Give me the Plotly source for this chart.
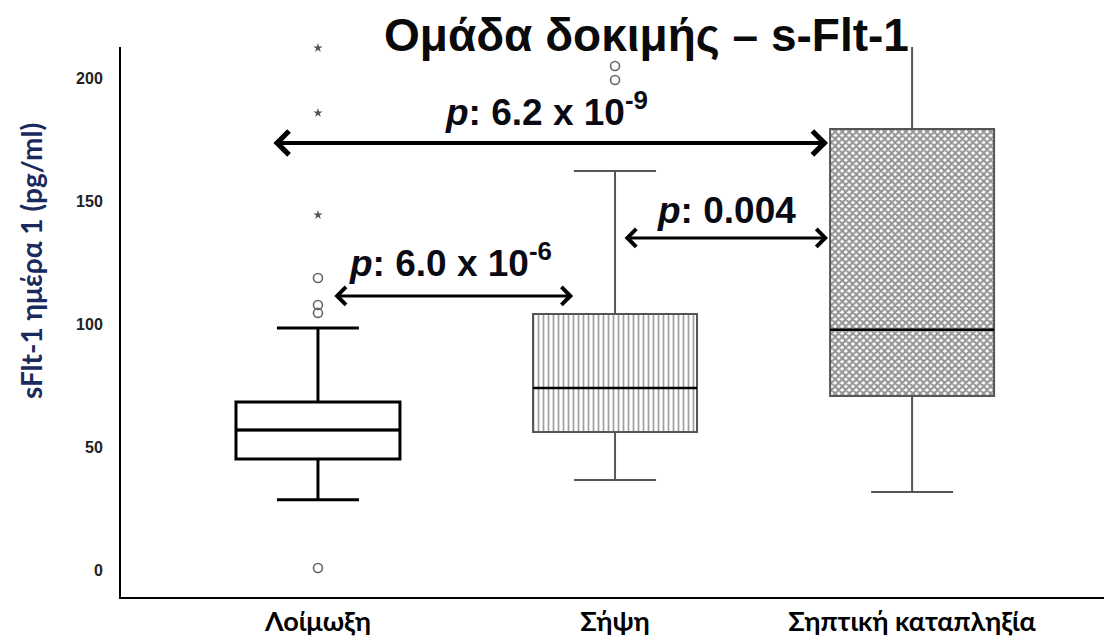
import plotly.graph_objects as go

# Groups and box-plot statistics (sFlt-1, pg/ml)
groups = ["Λοίμωξη", "Σήψη", "Σηπτική καταπληξία"]
q1 = [45.1, 56.1, 70.7]
median = [56.9, 74.0, 97.6]
q3 = [68.3, 104.1, 179.3]
lower_whisker = [28.5, 36.6, 31.7]
upper_whisker = [98.4, 162.2, 213.0]

# Outliers: mild (circles) and extreme (stars)
mild_group = ["Λοίμωξη", "Λοίμωξη", "Λοίμωξη", "Λοίμωξη", "Σήψη", "Σήψη"]
mild_values = [0.8, 104.5, 107.7, 118.7, 199.2, 204.9]
extreme_group = ["Λοίμωξη", "Λοίμωξη", "Λοίμωξη"]
extreme_values = [144.3, 185.8, 212.2]

# Pairwise comparisons: arrow start, arrow end (category units), height, label
comparisons = [
    (-0.155, 1.717, 173.6, "<i>p</i>: 6.2 x 10<sup>-9</sup>", 0.77, 4, 33),
    (0.05, 0.859, 111.4, "<i>p</i>: 6.0 x 10<sup>-6</sup>", 0.445, 3, 35),
    (1.027, 1.717, 135.0, "<i>p</i>: 0.004", 1.375, 3, 27),
]

fig = go.Figure()

# Patterned box bodies
fig.add_trace(go.Bar(
    x=groups,
    y=[b - a for a, b in zip(q1, q3)],
    base=q1,
    width=0.552,
    marker=dict(
        color="white",
        line=dict(width=0),
        pattern=dict(shape=["", "|", "x"], fgcolor=["#000", "#444", "#2a2a2a"],
                     bgcolor="white", size=[6, 5, 5], solidity=[0.2, 0.35, 0.65]),
    ),
    hoverinfo="skip",
    showlegend=False,
))

box_line = [("black", 3), ("#555", 2), ("#555", 2)]
for i, g in enumerate(groups):
    fig.add_trace(go.Box(
        x=[g],
        q1=[q1[i]], median=[median[i]], q3=[q3[i]],
        lowerfence=[lower_whisker[i]], upperfence=[upper_whisker[i]],
        width=0.552,
        whiskerwidth=0.5,
        fillcolor="rgba(0,0,0,0)",
        line=dict(color=box_line[i][0], width=box_line[i][1]),
        boxpoints=False,
        showlegend=False,
    ))
    # darker median line
    fig.add_trace(go.Scatter(
        x=[i - 0.276, i + 0.276], y=[median[i], median[i]],
        xaxis="x2", mode="lines", line=dict(color="black", width=2.5),
        showlegend=False, hoverinfo="skip",
    ))

fig.add_trace(go.Scatter(
    x=mild_group, y=mild_values, mode="markers", cliponaxis=False,
    marker=dict(symbol="circle-open", size=9, color="#666", line=dict(width=1.6)),
    showlegend=False,
))
fig.add_trace(go.Scatter(
    x=extreme_group, y=extreme_values, mode="markers", cliponaxis=False,
    marker=dict(symbol="star", size=7, color="#555"),
    showlegend=False,
))

annotations = []
for x0, x1, yv, label, lx, lw, shift in comparisons:
    annotations.append(dict(
        x=x1, y=yv, ax=x0, ay=yv, xref="x2", yref="y", axref="x2", ayref="y",
        text="", showarrow=True, arrowhead=4, startarrowhead=4,
        arrowside="end+start", arrowsize=1.15, startarrowsize=1.15,
        arrowwidth=lw, arrowcolor="black",
    ))
    annotations.append(dict(
        x=lx, y=yv, xref="x2", yref="y", yshift=shift,
        text=f"<b>{label}</b>", showarrow=False,
        font=dict(family="Arial, Liberation Sans", size=37, color="#0a0a14"),
    ))

# Chart title
annotations.append(dict(
    x=0.535, y=1, xref="paper", yref="paper", yshift=12,
    text="<b>Ομάδα δοκιμής – s-Flt-1</b>", showarrow=False, yanchor="middle",
    font=dict(family="Arial, Liberation Sans", size=46, color="#0a0a0a"),
))

# Y-axis title
annotations.append(dict(
    x=-0.0915, y=0.611, xref="paper", yref="paper", textangle=-90,
    text="<b>sFlt-1 ημέρα 1 (pg/ml)</b>", showarrow=False,
    xanchor="center", yanchor="middle",
    font=dict(family="Lato", size=28, color="#1b2a5c"),
))

xrange = [-0.663, 2.646]
fig.update_layout(
    width=1104, height=642,
    margin=dict(l=121, r=0, t=47, b=45),
    paper_bgcolor="white", plot_bgcolor="white",
    boxmode="overlay", barmode="overlay",
    annotations=annotations,
    xaxis=dict(
        type="category", range=xrange, showgrid=False, zeroline=False,
        showline=True, linecolor="black", linewidth=2, ticks="",
        ticklabelstandoff=0,
        tickfont=dict(family="Lato", size=27, color="black", weight="bold"),
    ),
    xaxis2=dict(range=xrange, overlaying="x", visible=False),
    yaxis=dict(
        range=[-11, 212.6], tickvals=[0, 50, 100, 150, 200],
        showgrid=False, zeroline=False, showline=True, linecolor="black",
        linewidth=2, ticks="", ticklabelstandoff=13,
        tickfont=dict(family="Arial, Liberation Sans", size=16, color="#222", weight="bold"),
    ),
)

fig.write_html("out.html")
